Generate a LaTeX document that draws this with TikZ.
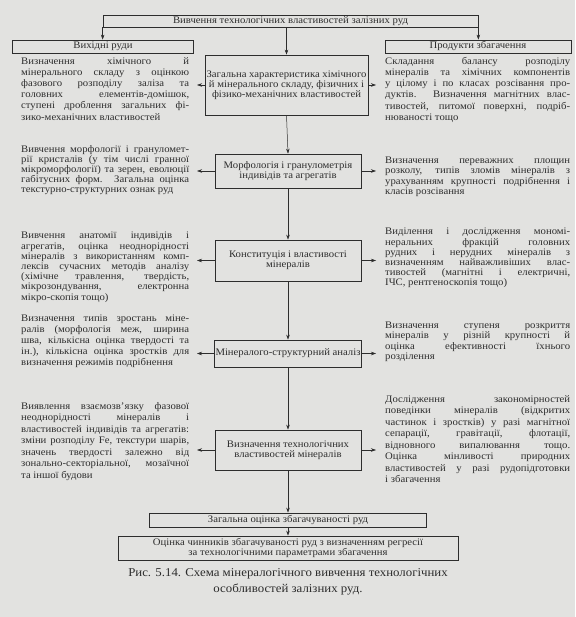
\documentclass[tikz,border=0pt]{standalone}
\usepackage{fontspec}
\setmainfont[FakeStretch=1.07]{Liberation Serif}
\usetikzlibrary{arrows.meta}
\definecolor{papir}{RGB}{226,226,224}
\definecolor{chornylo}{RGB}{45,45,45}
\newcommand{\opysfont}[1][10.2]{\fontsize{10}{#1}\selectfont\hyphenpenalty=10000 \exhyphenpenalty=10000 \tolerance=10000 \hbadness=10000\relax}

\tikzset{
	blok/.style={draw=chornylo, line width=0.7pt, align=center, inner sep=1pt, font=\opysfont},
	opys/.style={anchor=north west, inner sep=0pt, align=justify, font={\opysfont[#1]}},
	opys/.default=10.2,
}

\begin{document}
\begin{tikzpicture}[x=1pt, y=-1pt, >={Stealth[length=5pt,width=3.5pt]}, text=chornylo]
	\fill[papir] (0,0) rectangle (575,617);
	\useasboundingbox (0,0) rectangle (575,617);

	\node[blok, minimum width=375, minimum height=12] (vyvch) at (290.5,21) {Вивчення технологічних властивостей залізних руд};
	\node[blok, minimum width=181, minimum height=13] (vyhid) at (103,46.5) {Вихідні руди};
	\node[blok, minimum width=186, minimum height=13] (prod) at (478,46.5) {Продукти збагачення};

	\node[blok, minimum width=163, minimum height=60] (zah) at (286.5,85) {Загальна характеристика хімічного\\й мінерального складу, фізичних і\\фізико-механічних властивостей};
	\node[blok, minimum width=146, minimum height=34] (morf) at (288,171) {Морфологія і гранулометрія\\індивідів та агрегатів};
	\node[blok, minimum width=146, minimum height=41] (konst) at (288,260.5) {Конституція і властивості\\мінералів};
	\node[blok, minimum width=146, minimum height=27] (minstr) at (288,353.5) {Мінералого-структурний аналіз};
	\node[blok, minimum width=146, minimum height=40] (tekhn) at (288,450) {Визначення технологічних\\властивостей мінералів};
	\node[blok, minimum width=277, minimum height=14] (zoc) at (288,520) {Загальна оцінка збагачуваності руд};
	\node[blok, minimum width=340, minimum height=24] (chyn) at (288,548) {Оцінка чинників збагачуваності руд з визначенням регресії\\за технологічними параметрами збагачення};

	\node[opys=11.2, text width=168] (lt1) at (21,57) {Визначення хімічного й\linebreak мінерального складу з оцінкою\linebreak фазового розподілу заліза та\linebreak головних елементів-домішок,\linebreak ступені дроблення загальних фі-\linebreak зико-механічних властивостей};
	\node[opys, text width=168] (lt2) at (21,145) {Вивчення морфології і грануломет-\linebreak рії кристалів (у тім числі гранної\linebreak мікроморфології) та зерен, еволюції\linebreak габітусних форм. Загальна оцінка\linebreak текстурно-структурних ознак руд};
	\node[opys, text width=168] (lt3) at (21,232) {Вивчення анатомії індивідів і\linebreak агрегатів, оцінка неоднорідності\linebreak мінералів з використанням комп-\linebreak лексів сучасних методів аналізу\linebreak (хімічне травлення, твердість,\linebreak мікрозондування, електронна\linebreak мікро-скопія тощо)};
	\node[opys=11, text width=168] (lt4) at (21,315) {Визначення типів зростань міне-\linebreak ралів (морфологія меж, ширина\linebreak шва, кількісна оцінка твердості та\linebreak ін.), кількісна оцінка зростків для\linebreak визначення режимів подрібнення};
	\node[opys=11.5, text width=168] (lt5) at (21,402) {Виявлення взаємозв’язку фазової\linebreak неоднорідності мінералів і\linebreak властивостей індивідів та агрегатів:\linebreak зміни розподілу Fe, текстури шарів,\linebreak значень твердості залежно від\linebreak зонально-секторіальної, мозаїчної\linebreak та іншої будови};

	\node[opys=11.2, text width=185] (rt1) at (385,57) {Складання балансу розподілу\linebreak мінералів та хімічних компонентів\linebreak у цілому і по класах розсівання про-\linebreak дуктів. Визначення магнітних влас-\linebreak тивостей, питомої поверхні, подріб-\linebreak нюваності тощо};
	\node[opys, text width=185] (rt2) at (385,157) {Визначення переважних площин\linebreak розколу, типів зломів мінералів з\linebreak урахуванням крупності подрібнення і\linebreak класів розсівання};
	\node[opys, text width=185] (rt3) at (385,228) {Виділення і дослідження мономі-\linebreak неральних фракцій головних\linebreak рудних і нерудних мінералів з\linebreak визначенням найважливіших влас-\linebreak тивостей (магнітні і електричні,\linebreak ІЧС, рентгеноскопія тощо)};
	\node[opys, text width=185] (rt4) at (385,322) {Визначення ступеня розкриття\linebreak мінералів у різній крупності й\linebreak оцінка ефективності їхнього\linebreak розділення};
	\node[opys=11.5, text width=185] (rt5) at (385,395) {Дослідження закономірностей\linebreak поведінки мінералів (відкритих\linebreak частинок і зростків) у разі магнітної\linebreak сепарації, гравітації, флотації,\linebreak відновного випалювання тощо.\linebreak Оцінка мінливості природних\linebreak властивостей у разі рудопідготовки\linebreak і збагачення};

	\node[align=center, font=\fontsize{12}{16}\selectfont] (pidpys) at (288,582) {Рис. 5.14. Схема мінералогічного вивчення технологічних\\особливостей залізних руд.};

	\coordinate (lkraj) at (197,0);
	\coordinate (pkraj) at (376,0);

	\begin{scope}[draw=chornylo, line width=0.5pt]
		\draw[->] (vyvch.south west) -- (vyvch.south west |- vyhid.north);
		\draw[->] (vyvch.south east) -- (vyvch.south east |- prod.north);
		\draw[->] (vyvch.south -| zah.north) -- (zah.north);
		\foreach \a/\b in {zah/morf, morf/konst, konst/minstr, minstr/tekhn, tekhn/zoc, zoc/chyn}
			\draw[->] (\a.south) -- (\b.north);
		\foreach \b in {zah, morf, konst, minstr, tekhn} {
			\draw[->] (\b.west) -- (\b.west -| lkraj);
			\draw[->] (\b.east) -- (\b.east -| pkraj);
		}
	\end{scope}
\end{tikzpicture}
\end{document}
